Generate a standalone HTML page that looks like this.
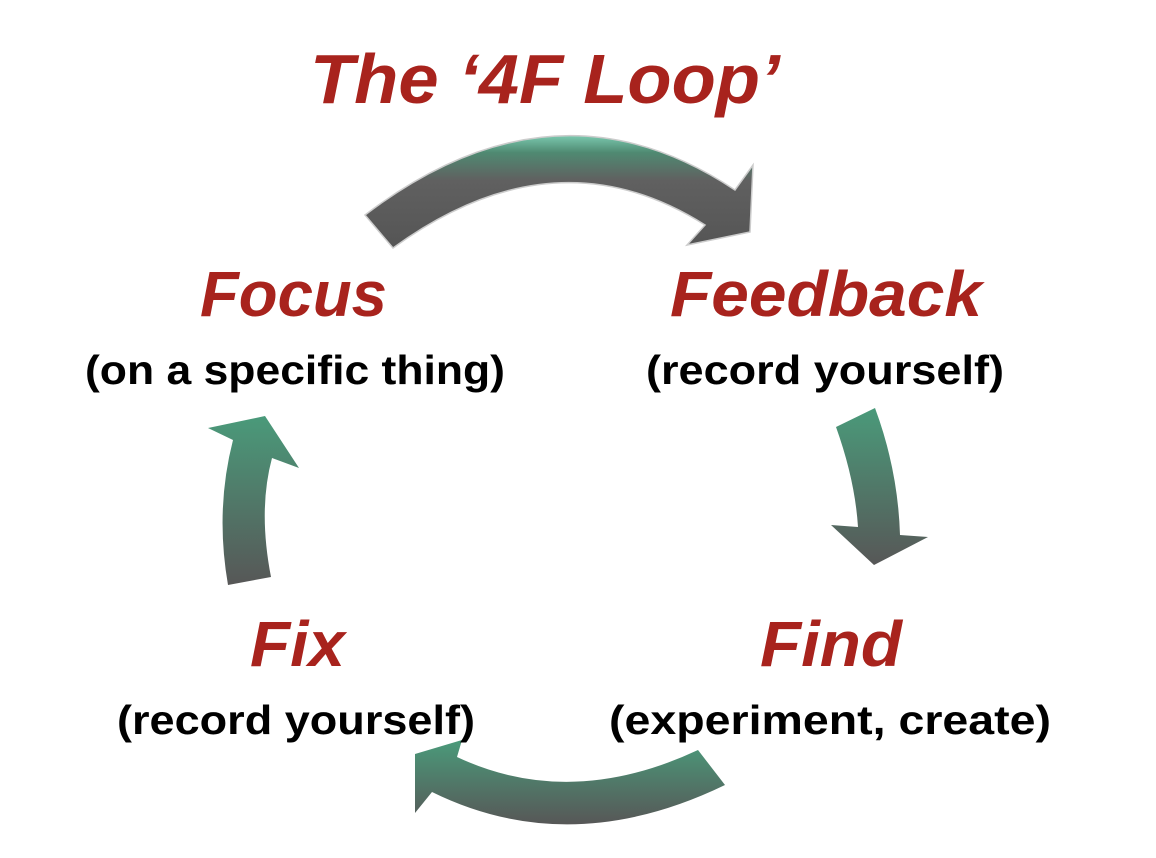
<!DOCTYPE html>
<html><head><meta charset="utf-8"><style>
html,body{margin:0;padding:0;background:#fff;}
svg{display:block;}
.r{font-family:"Liberation Sans",sans-serif;font-weight:bold;font-style:italic;fill:#a8231d;}
.b{font-family:"Liberation Sans",sans-serif;font-weight:bold;fill:#000;}
</style></head><body>
<svg width="1156" height="858" viewBox="0 0 1156 858" xmlns="http://www.w3.org/2000/svg">
<defs>
<linearGradient id="g" x1="0" y1="0" x2="0" y2="1">
<stop offset="0" stop-color="#4a9a7a"/><stop offset="1" stop-color="#575757"/></linearGradient>
<linearGradient id="gt" x1="0" y1="0" x2="0" y2="1">
<stop offset="0" stop-color="#7ac8ae"/><stop offset="0.15" stop-color="#4f8a72"/><stop offset="0.4" stop-color="#606060"/><stop offset="1" stop-color="#555"/></linearGradient>
</defs>
<text class="r" x="310" y="103" font-size="70" textLength="470" lengthAdjust="spacingAndGlyphs">The ‘4F Loop’</text>
<path d="M365,215 Q555,70 735,190 L753,165 L750,232 L687,245 L705,225 Q555,130 393,248 Z" fill="url(#gt)" stroke="#ccc" stroke-width="1.5"/>
<path d="M836,427 Q855,480 858,527 L831,525 L874,565 L928,537 L900,535 Q898,470 875,408 Z" fill="url(#g)"/>
<path d="M698,750 Q570,810 457,757 L462,740 L415,754 L415,813 L432,792 Q570,860 725,785 Z" fill="url(#g)"/>
<path d="M228,585 Q215,510 233,440 L208,428 L265,416 L299,468 L272,458 Q258,510 271,577 Z" fill="url(#g)"/>
<text class="r" x="200" y="316" font-size="64" textLength="187" lengthAdjust="spacingAndGlyphs">Focus</text>
<text class="b" x="85" y="384" font-size="41" textLength="420" lengthAdjust="spacingAndGlyphs">(on a specific thing)</text>
<text class="r" x="670" y="316" font-size="64" textLength="312" lengthAdjust="spacingAndGlyphs">Feedback</text>
<text class="b" x="646" y="384" font-size="41" textLength="358" lengthAdjust="spacingAndGlyphs">(record yourself)</text>
<text class="r" x="250" y="666" font-size="64" textLength="95" lengthAdjust="spacingAndGlyphs">Fix</text>
<text class="b" x="117" y="734" font-size="41" textLength="358" lengthAdjust="spacingAndGlyphs">(record yourself)</text>
<text class="r" x="760" y="666" font-size="64" textLength="142" lengthAdjust="spacingAndGlyphs">Find</text>
<text class="b" x="609" y="734" font-size="41" textLength="442" lengthAdjust="spacingAndGlyphs">(experiment, create)</text>
</svg>
</body></html>
